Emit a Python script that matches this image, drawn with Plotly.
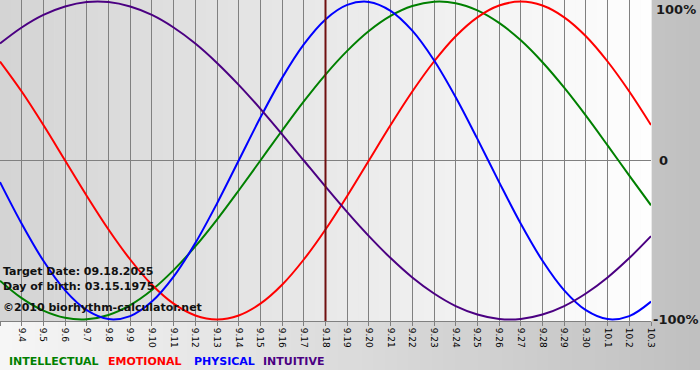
import plotly.graph_objects as go

dates = ["9.3", "9.4", "9.5", "9.6", "9.7", "9.8", "9.9", "9.10", "9.11", "9.12",
         "9.13", "9.14", "9.15", "9.16", "9.17", "9.18", "9.19", "9.20", "9.21",
         "9.22", "9.23", "9.24", "9.25", "9.26", "9.27", "9.28", "9.29", "9.30",
         "10.1", "10.2", "10.3"]

intellectual = [-0.756, -0.866, -0.945, -0.990, -0.999, -0.972, -0.910, -0.815,
                -0.690, -0.541, -0.372, -0.189, 0.000, 0.189, 0.372, 0.541, 0.690,
                0.815, 0.910, 0.972, 0.999, 0.990, 0.945, 0.866, 0.756, 0.618,
                0.458, 0.282, 0.095, -0.095, -0.282]
emotional = [0.623, 0.434, 0.223, 0.000, -0.223, -0.434, -0.623, -0.782, -0.901,
             -0.975, -1.000, -0.975, -0.901, -0.782, -0.623, -0.434, -0.223, 0.000,
             0.223, 0.434, 0.623, 0.782, 0.901, 0.975, 1.000, 0.975, 0.901, 0.782,
             0.623, 0.434, 0.223]
physical = [-0.136, -0.398, -0.631, -0.817, -0.942, -0.998, -0.979, -0.888,
            -0.731, -0.520, -0.270, 0.000, 0.270, 0.520, 0.731, 0.888, 0.979,
            0.998, 0.942, 0.817, 0.631, 0.398, 0.136, -0.136, -0.398, -0.631,
            -0.817, -0.942, -0.998, -0.979, -0.888]
intuitive = [0.736, 0.837, 0.916, 0.969, 0.997, 0.997, 0.969, 0.916, 0.837,
             0.736, 0.614, 0.476, 0.325, 0.165, 0.000, -0.165, -0.325, -0.476,
             -0.614, -0.736, -0.837, -0.916, -0.969, -0.997, -0.997, -0.969,
             -0.916, -0.837, -0.736, -0.614, -0.476]

series_names = ["INTELLECTUAL", "EMOTIONAL", "PHYSICAL", "INTUITIVE"]
series_values = [intellectual, emotional, physical, intuitive]
series_colors = ["#008000", "#ff0000", "#0000ff", "#4b0082"]

target_date = "9.18"
info_lines = ["Target Date: 09.18.2025", "Day of birth: 03.15.1975",
              "\u00a92010 biorhythm-calculator.net"]
y_labels = ["100%", "0", "-100%"]
y_label_vals = [1, 0, -1]

W, H = 651, 321
x = list(range(len(dates)))

fig = go.Figure()
for name, vals, col in zip(series_names, series_values, series_colors):
    fig.add_trace(go.Scatter(x=x, y=vals, mode="lines", name=name,
                             line=dict(color=col, width=2, shape="spline", smoothing=1.0),
                             hoverinfo="skip"))


def hexmix(c0, c1, t):
    a = [int(c0[i:i + 2], 16) for i in (1, 3, 5)]
    b = [int(c1[i:i + 2], 16) for i in (1, 3, 5)]
    return "rgb(%d,%d,%d)" % tuple(round(a[k] + (b[k] - a[k]) * t) for k in range(3))


shapes = []


def gradient(x0, x1, y0, y1, c0, c1, n):
    for i in range(n):
        xa = x0 + (x1 - x0) * i / n
        xb = x0 + (x1 - x0) * (i + 1) / n + 0.001
        shapes.append(dict(type="rect", xref="paper", yref="paper", x0=xa, x1=xb,
                           y0=y0, y1=y1, fillcolor=hexmix(c0, c1, (i + 0.5) / n),
                           line=dict(width=0), layer="below"))


# outer background (bottom strip + right margin)
gradient(0, 700 / W, -49 / H, 1, "#f6f6f6", "#c0c0c0", 60)
# plot area
gradient(0, 1, 0, 1, "#d4d4d4", "#fefefe", 60)

ti = dates.index(target_date)
shapes.append(dict(type="line", xref="x", yref="paper", x0=ti, x1=ti, y0=0, y1=1,
                   line=dict(color="#701010", width=2), layer="above"))

annotations = []
for txt, yc in zip(info_lines, [271, 286, 307]):
    annotations.append(dict(text="<b>%s</b>" % txt, xref="paper", yref="paper",
                            x=1 / W, y=(H - yc) / H, xanchor="left", yanchor="middle",
                            showarrow=False,
                            font=dict(family="DejaVu Sans", size=11, color="#111111")))

legend_x = [7, 106, 192, 261]
for name, col, lx in zip(series_names, series_colors, legend_x):
    annotations.append(dict(text="<b>%s</b>" % name, xref="paper", yref="paper",
                            x=lx / W, y=(H - 361) / H, xanchor="left", yanchor="middle",
                            showarrow=False,
                            font=dict(family="DejaVu Sans", size=11, color=col)))

shift_y = [-8, 0, 0]
shift_x = [3, 6, 0]
for lab, v, sy, sx in zip(y_labels, y_label_vals, shift_y, shift_x):
    annotations.append(dict(text="<b>%s</b>" % lab, xref="paper", yref="y",
                            x=1, y=v, xanchor="left", yanchor="middle",
                            xshift=sx, yshift=sy, showarrow=False,
                            font=dict(family="DejaVu Sans", size=13, color="#1a1a1a")))

fig.update_layout(
    width=700, height=380,
    margin=dict(l=0, r=49, t=0, b=59, pad=0, autoexpand=False),
    paper_bgcolor="#ffffff",
    plot_bgcolor="rgba(0,0,0,0)",
    showlegend=False,
    shapes=shapes,
    annotations=annotations,
    xaxis=dict(range=[0, 30], tickvals=x, ticktext=dates, tickangle=90,
               showgrid=True, gridcolor="#808080", gridwidth=1,
               ticks="outside", ticklen=4, tickcolor="#808080",
               tickfont=dict(family="DejaVu Sans", size=9, color="#000000"),
               zeroline=False, showline=True, linecolor="#808080", linewidth=1,
               fixedrange=True, automargin=False),
    yaxis=dict(range=[-1.01, 1.01], showgrid=False, zeroline=True,
               zerolinecolor="#808080", zerolinewidth=1, showticklabels=False,
               ticks="", showline=False, fixedrange=True, automargin=False),
)

fig.write_html("out.html", config={"displayModeBar": False},
               post_script="document.body.style.margin='0';document.body.style.padding='0';")
